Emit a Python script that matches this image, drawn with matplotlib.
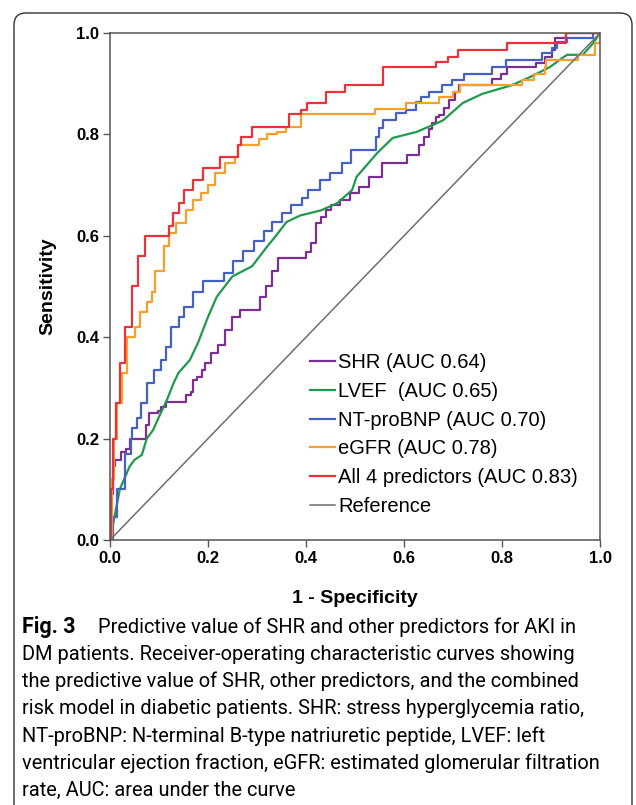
import matplotlib
matplotlib.use("Agg")
from matplotlib import pyplot as plt
from matplotlib.patches import FancyBboxPatch
from matplotlib.transforms import IdentityTransform

# ROC curves: (1 - specificity, sensitivity)
shr_x = [0, 0.003, 0.006, 0.01, 0.022, 0.032, 0.04, 0.073, 0.08, 0.098, 0.104, 0.114, 0.155, 0.165,
         0.17, 0.178, 0.188, 0.194, 0.206, 0.22, 0.235, 0.248, 0.265, 0.306, 0.318, 0.33, 0.343, 0.4,
         0.41, 0.42, 0.43, 0.44, 0.452, 0.47, 0.49, 0.508, 0.528, 0.555, 0.606, 0.63, 0.64, 0.65,
         0.658, 0.665, 0.672, 0.682, 0.692, 0.705, 0.712, 0.78, 0.798, 0.81, 0.87, 0.888, 0.902,
         0.908, 0.93, 1.0]
shr_y = [0, 0.09, 0.145, 0.158, 0.174, 0.18, 0.2, 0.227, 0.25, 0.255, 0.262, 0.272, 0.286, 0.292,
         0.315, 0.322, 0.335, 0.35, 0.369, 0.385, 0.414, 0.44, 0.453, 0.48, 0.5, 0.53, 0.556, 0.568,
         0.585, 0.625, 0.637, 0.65, 0.66, 0.67, 0.684, 0.696, 0.716, 0.743, 0.76, 0.78, 0.795, 0.81,
         0.822, 0.834, 0.838, 0.852, 0.868, 0.884, 0.897, 0.91, 0.92, 0.933, 0.94, 0.953, 0.966,
         0.99, 1.0, 1.0]

lvef_x = [0, 0.01, 0.02, 0.04, 0.05, 0.065, 0.075, 0.088, 0.1, 0.116, 0.13, 0.14, 0.163, 0.18, 0.2,
          0.218, 0.25, 0.29, 0.32, 0.337, 0.36, 0.388, 0.43, 0.463, 0.494, 0.503, 0.545, 0.577,
          0.626, 0.667, 0.68, 0.72, 0.76, 0.82, 0.857, 0.898, 0.922, 0.933, 0.965, 0.986, 1.0]
lvef_y = [0, 0.05, 0.1, 0.145, 0.158, 0.168, 0.2, 0.217, 0.243, 0.276, 0.31, 0.33, 0.355, 0.39, 0.44,
          0.48, 0.52, 0.54, 0.578, 0.598, 0.627, 0.64, 0.65, 0.664, 0.69, 0.716, 0.763, 0.793,
          0.805, 0.822, 0.828, 0.862, 0.88, 0.897, 0.913, 0.933, 0.95, 0.957, 0.957, 0.98, 1.0]

bnp_x = [0, 0.006, 0.015, 0.03, 0.042, 0.045, 0.055, 0.063, 0.075, 0.09, 0.104, 0.115, 0.125, 0.14,
         0.152, 0.17, 0.19, 0.232, 0.252, 0.272, 0.294, 0.314, 0.33, 0.35, 0.37, 0.392, 0.405,
         0.428, 0.448, 0.474, 0.492, 0.543, 0.548, 0.558, 0.583, 0.604, 0.625, 0.635, 0.65, 0.678,
         0.698, 0.722, 0.78, 0.808, 0.882, 0.902, 0.912, 0.932, 0.986, 1.0]
bnp_y = [0, 0.045, 0.1, 0.17, 0.2, 0.22, 0.24, 0.27, 0.31, 0.335, 0.355, 0.38, 0.42, 0.44, 0.46,
         0.49, 0.51, 0.527, 0.55, 0.57, 0.59, 0.61, 0.627, 0.645, 0.66, 0.675, 0.69, 0.71, 0.724,
         0.744, 0.77, 0.795, 0.813, 0.828, 0.842, 0.848, 0.864, 0.874, 0.884, 0.897, 0.907, 0.92,
         0.933, 0.947, 0.96, 0.97, 0.982, 0.99, 1.0, 1.0]

egfr_x = [0, 0.004, 0.008, 0.015, 0.025, 0.035, 0.05, 0.062, 0.075, 0.085, 0.092, 0.11, 0.12, 0.135,
          0.155, 0.17, 0.185, 0.2, 0.214, 0.235, 0.255, 0.262, 0.305, 0.32, 0.34, 0.36, 0.39, 0.54,
          0.605, 0.672, 0.7, 0.714, 0.84, 0.865, 0.888, 0.89, 0.955, 0.99, 1.0]
egfr_y = [0, 0.12, 0.2, 0.27, 0.33, 0.4, 0.42, 0.45, 0.47, 0.49, 0.53, 0.58, 0.605, 0.625, 0.65,
          0.67, 0.684, 0.7, 0.724, 0.744, 0.755, 0.78, 0.79, 0.8, 0.805, 0.815, 0.84, 0.85, 0.862,
          0.874, 0.884, 0.897, 0.907, 0.92, 0.933, 0.947, 0.957, 0.98, 1.0]

all4_x = [0, 0.003, 0.006, 0.012, 0.02, 0.03, 0.045, 0.058, 0.072, 0.12, 0.128, 0.14, 0.152, 0.17,
          0.19, 0.224, 0.262, 0.268, 0.29, 0.365, 0.39, 0.402, 0.44, 0.48, 0.558, 0.665, 0.69, 0.71,
          0.81, 0.93, 1.0]
all4_y = [0, 0.1, 0.2, 0.27, 0.35, 0.42, 0.5, 0.56, 0.6, 0.62, 0.645, 0.665, 0.69, 0.71, 0.734,
          0.755, 0.78, 0.795, 0.815, 0.84, 0.848, 0.862, 0.884, 0.897, 0.933, 0.943, 0.953, 0.966,
          0.98, 1.0, 1.0]

labels = ["SHR (AUC 0.64)", "LVEF  (AUC 0.65)", "NT-proBNP (AUC 0.70)", "eGFR (AUC 0.78)",
          "All 4 predictors (AUC 0.83)", "Reference"]
colors = ["#7b2f91", "#1e9a4a", "#4562c2", "#f5a02c", "#e8323c", "#6e6e6e"]
ticks = [0.0, 0.2, 0.4, 0.6, 0.8, 1.0]

caption = [
    "DM patients. Receiver-operating characteristic curves showing",
    "the predictive value of SHR, other predictors, and the combined",
    "risk model in diabetic patients. SHR: stress hyperglycemia ratio,",
    "NT-proBNP: N-terminal B-type natriuretic peptide, LVEF: left",
    "ventricular ejection fraction, eGFR: estimated glomerular filtration",
    "rate, AUC: area under the curve",
]

W, H = 636, 805
fig = plt.figure(figsize=(W / 100, H / 100), dpi=100)
ax = fig.add_axes([110 / W, 1 - 540 / H, 490 / W, 507 / H])

ax.plot(shr_x, shr_y, color=colors[0], lw=1.6, drawstyle="steps-post", label=labels[0])
ax.plot(lvef_x, lvef_y, color=colors[1], lw=1.6, label=labels[1])
ax.plot(bnp_x, bnp_y, color=colors[2], lw=1.6, drawstyle="steps-post", label=labels[2])
ax.plot(egfr_x, egfr_y, color=colors[3], lw=1.6, drawstyle="steps-post", label=labels[3])
ax.plot(all4_x, all4_y, color=colors[4], lw=1.6, drawstyle="steps-post", label=labels[4])
ax.plot([0, 1], [0, 1], color=colors[5], lw=1.1, label=labels[5])

axis_font = "Liberation Sans"
ax.set_xlim(0, 1)
ax.set_ylim(0, 1)
ax.set_xticks(ticks)
ax.set_yticks(ticks)
ax.set_xticklabels(["%.1f" % t for t in ticks], fontsize=12, fontweight="bold", family=axis_font)
ax.set_yticklabels(["%.1f" % t for t in ticks], fontsize=12, fontweight="bold", family=axis_font)
ax.tick_params(direction="out", length=5, width=1, color="#555555", pad=3)
for s in ax.spines.values():
    s.set_color("#555555")
    s.set_linewidth(1.1)

ax.set_xlabel("1 - Specificity", fontsize=14, fontweight="bold", family=axis_font, labelpad=17)
ax.set_ylabel("Sensitivity", fontsize=14, fontweight="bold", family=axis_font, labelpad=14)

ax.legend(loc="upper left", bbox_to_anchor=(0.408, 0.368), frameon=False, borderpad=0,
          borderaxespad=0, handlelength=1.25, handletextpad=0.15, labelspacing=0.48,
          prop={"family": axis_font, "size": 14.5})

# caption
cap_font = "Roboto"
fig.text(22 / W, 1 - 627 / H, "Fig. 3", fontsize=15.5, fontweight="bold", family=cap_font, va="center")
fig.text(98 / W, 1 - 627 / H, "Predictive value of SHR and other predictors for AKI in",
         fontsize=14.4, family=cap_font, va="center")
for i, line in enumerate(caption):
    fig.text(22 / W, 1 - (654.3 + 27.3 * i) / H, line, fontsize=14.4, family=cap_font, va="center")

# rounded frame around the figure
frame = FancyBboxPatch((14, -30), 618, H - 13 + 30, boxstyle="round,pad=0,rounding_size=12",
                       transform=IdentityTransform(), fill=False, ec="#333333", lw=1.0)
fig.add_artist(frame)

fig.savefig("out.png", dpi=100)
